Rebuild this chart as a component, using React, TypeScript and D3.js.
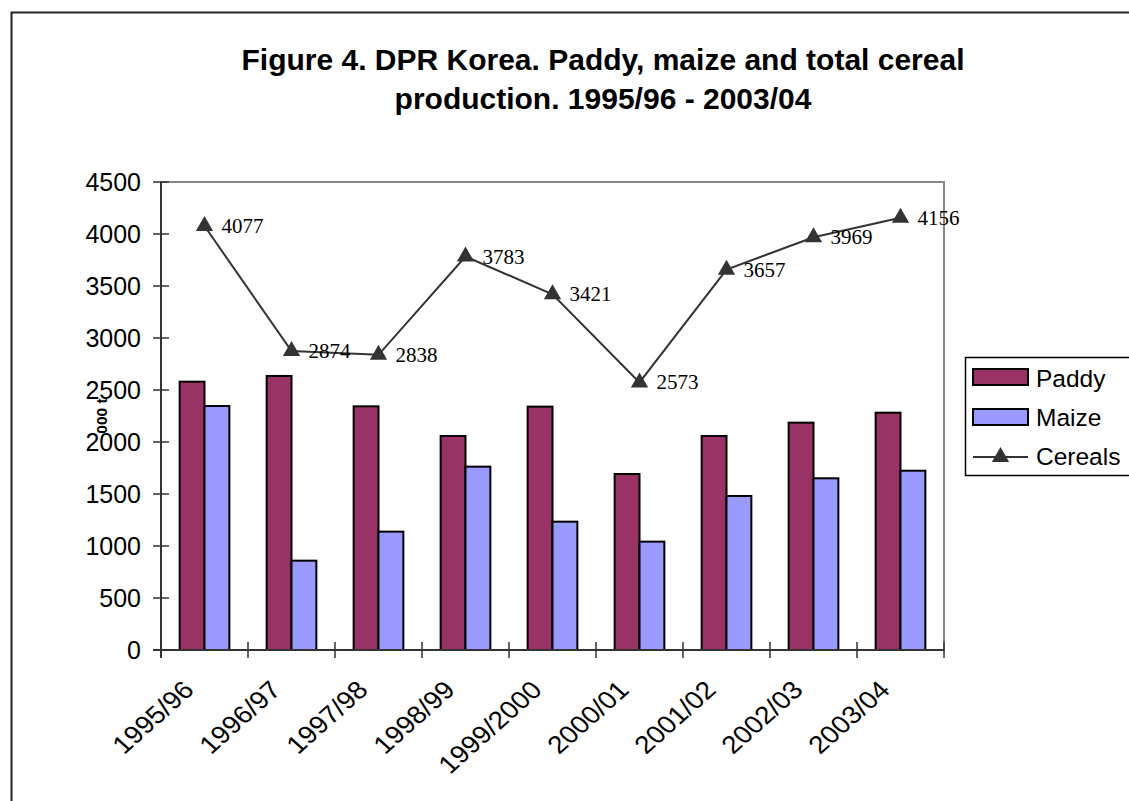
import * as d3 from 'd3';
import React from 'react';

const years = ['1995/96', '1996/97', '1997/98', '1998/99', '1999/2000', '2000/01', '2001/02', '2002/03', '2003/04'];
const paddy = [2580, 2635, 2343, 2058, 2340, 1692, 2058, 2186, 2282];
const maize = [2346, 859, 1138, 1763, 1234, 1042, 1481, 1651, 1724];
const cereals = [4077, 2874, 2838, 3783, 3421, 2573, 3657, 3969, 4156];
const yTicks = [0, 500, 1000, 1500, 2000, 2500, 3000, 3500, 4000, 4500];

const W = 1129;
const H = 801;
const plot = { left: 161, right: 944, top: 182, bottom: 650 };
const sans = 'Arial, "Liberation Sans", sans-serif';
const serif = '"Times New Roman", "Liberation Serif", serif';

const App = () => {
  const x = d3.scaleBand().domain(years).range([plot.left, plot.right]);
  const y = d3.scaleLinear().domain([0, 4500]).range([plot.bottom, plot.top]);
  const barW = x.step() / 3.5;
  const cx = (d) => x(d) + x.step() / 2;

  const line = d3.line()
    .x((d, i) => cx(years[i]))
    .y((d) => y(d));

  const tri = d3.symbol().type(d3.symbolTriangle).size(130)();

  return (
    <svg width={W} height={H} style={{ position: 'absolute', left: 0, top: 0 }}>
      <rect x={0} y={0} width={W} height={H} fill='#fff' />
      {/* outer chart border */}
      <rect x={11.5} y={12.5} width={W + 20} height={H + 20} fill='none' stroke='#222' strokeWidth={2} />

      {/* title */}
      <text x={603} y={70} textAnchor='middle' fontFamily={sans} fontWeight='bold' fontSize={30}>
        Figure 4. DPR Korea. Paddy, maize and total cereal
      </text>
      <text x={603} y={109} textAnchor='middle' fontFamily={sans} fontWeight='bold' fontSize={30}>
        production. 1995/96 - 2003/04
      </text>

      {/* plot area border */}
      <rect x={plot.left} y={plot.top} width={plot.right - plot.left} height={plot.bottom - plot.top}
        fill='none' stroke='#888' strokeWidth={2} />

      {/* bars */}
      {years.map((yr, i) => (
        <g key={yr}>
          <rect x={cx(yr) - barW} y={y(paddy[i])} width={barW} height={y(0) - y(paddy[i])}
            fill='#993366' stroke='#000' strokeWidth={2} />
          <rect x={cx(yr)} y={y(maize[i])} width={barW} height={y(0) - y(maize[i])}
            fill='#9999FF' stroke='#000' strokeWidth={2} />
        </g>
      ))}

      {/* axes */}
      <line x1={plot.left} x2={plot.left} y1={plot.top} y2={plot.bottom + 8} stroke='#333' strokeWidth={2} />
      <line x1={plot.left - 8} x2={plot.right} y1={plot.bottom} y2={plot.bottom} stroke='#333' strokeWidth={2} />
      {yTicks.map((t) => (
        <g key={t}>
          <line x1={plot.left - 8} x2={plot.left + 8} y1={y(t)} y2={y(t)} stroke='#333' strokeWidth={1.5} />
          <text x={141} y={y(t)} dy='0.34em' textAnchor='end' fontFamily={sans} fontSize={25}>{t}</text>
        </g>
      ))}
      {[...years.map((yr) => x(yr)), plot.right].map((px, i) => (
        <line key={i} x1={px} x2={px} y1={plot.bottom - 8} y2={plot.bottom + 8} stroke='#333' strokeWidth={1.5} />
      ))}
      {years.map((yr) => (
        <text key={yr} transform={`translate(${cx(yr) - 16}, 685) scale(1.12, 1) rotate(-45)`}
          textAnchor='end' dy='0.36em' fontFamily={sans} fontSize={25}>{yr}</text>
      ))}
      <text transform={`translate(107, 416) rotate(-90)`}
        textAnchor='middle' fontFamily={sans} fontWeight='bold' fontSize={15.5}>000 t</text>

      {/* cereals line */}
      <path d={line(cereals)} fill='none' stroke='#333' strokeWidth={2} />
      {cereals.map((v, i) => (
        <g key={i}>
          <path d={tri} transform={`translate(${cx(years[i])}, ${y(v)})`} fill='#333' />
          <text x={cx(years[i]) + 17} y={y(v) + 7} fontFamily={serif} fontSize={21}>{v}</text>
        </g>
      ))}

      {/* legend */}
      <rect x={965.5} y={357.5} width={200} height={118} fill='#fff' stroke='#000' strokeWidth={1.5} />
      <rect x={973} y={369} width={55} height={16} fill='#993366' stroke='#000' strokeWidth={2} />
      <text x={1036} y={387} fontFamily={sans} fontSize={24.5}>Paddy</text>
      <rect x={973} y={409} width={55} height={16} fill='#9999FF' stroke='#000' strokeWidth={2} />
      <text x={1036} y={426} fontFamily={sans} fontSize={24.5}>Maize</text>
      <line x1={973} x2={1028} y1={457} y2={457} stroke='#333' strokeWidth={2} />
      <path d={tri} transform='translate(1000.5, 457)' fill='#333' />
      <text x={1036} y={465} fontFamily={sans} fontSize={24.5}>Cereals</text>
    </svg>
  );
};

export default App;
